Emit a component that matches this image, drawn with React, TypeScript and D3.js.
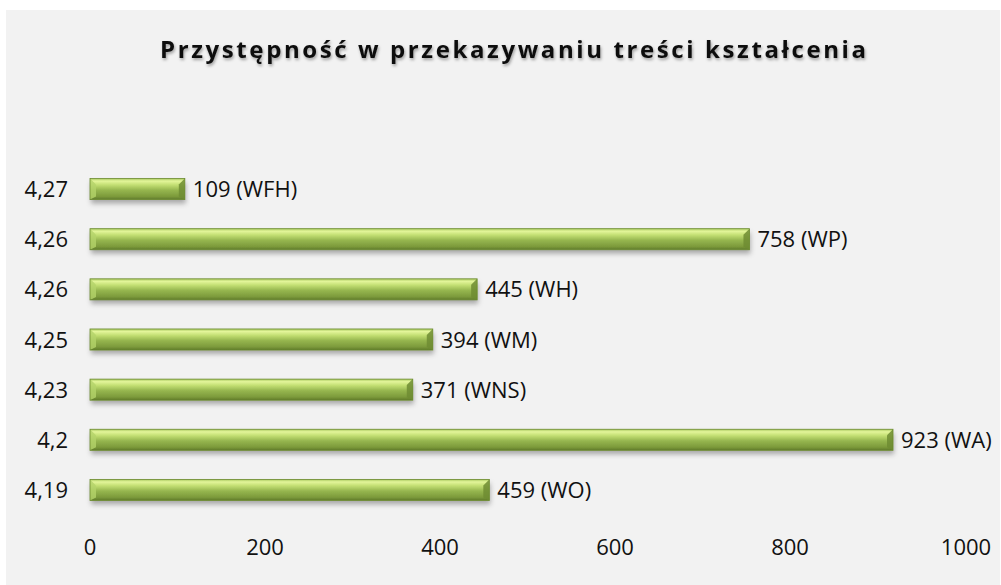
import { useRef, useEffect } from 'react'
import * as d3 from 'd3'

const categories = ['4,27', '4,26', '4,26', '4,25', '4,23', '4,2', '4,19']
const values = [109, 758, 445, 394, 371, 923, 459]
const faculties = ['WFH', 'WP', 'WH', 'WM', 'WNS', 'WA', 'WO']
const xTicks = [0, 200, 400, 600, 800, 1000]

const W = 1001
const H = 585

const App = () => {
  const svgRef = useRef<SVGSVGElement>(null)

  useEffect(() => {
    if (!svgRef.current) return
    const svg = d3.select(svgRef.current)
    svg.selectAll('*').remove()

    const font = "'Open Sans', 'Noto Sans', sans-serif"
    const fs = 22

    const defs = svg.append('defs')
    const grad = defs.append('linearGradient')
      .attr('id', 'barGrad')
      .attr('x1', 0).attr('y1', 0).attr('x2', 0).attr('y2', 1)
    const stops: [number, string][] = [
      [0, '#a9c95f'], [0.12, '#e3f59a'], [0.3, '#c3df73'], [0.55, '#96b64f'], [0.85, '#7c9a3b'], [1, '#5f7a2a']
    ]
    stops.forEach(([o, c]) => grad.append('stop').attr('offset', o).attr('stop-color', c))

    const shadow = defs.append('filter').attr('id', 'shadow')
      .attr('x', '-5%').attr('y', '-30%').attr('width', '110%').attr('height', '180%')
    shadow.append('feDropShadow')
      .attr('dx', 1).attr('dy', 4).attr('stdDeviation', 2.5)
      .attr('flood-color', '#000').attr('flood-opacity', 0.3)

    const titleShadow = defs.append('filter').attr('id', 'titleShadow')
    titleShadow.append('feDropShadow')
      .attr('dx', 1).attr('dy', 2).attr('stdDeviation', 1.5)
      .attr('flood-color', '#000').attr('flood-opacity', 0.35)

    // background
    svg.append('rect')
      .attr('x', 6).attr('y', 10).attr('width', W - 7).attr('height', H - 10)
      .attr('fill', '#f2f2f2')

    svg.append('text')
      .attr('x', 160).attr('y', 58)
      .attr('font-family', font)
      .attr('font-size', 24)
      .attr('font-weight', 'bold')
      .attr('textLength', 706)
      .attr('lengthAdjust', 'spacing')
      .attr('fill', '#111')
      .attr('filter', 'url(#titleShadow)')
      .text('Przystępność w przekazywaniu treści kształcenia')

    const x = d3.scaleLinear().domain([0, 1000]).range([90, 960])
    const y = d3.scaleBand<number>()
      .domain(d3.range(categories.length))
      .range([163, 516])
      .paddingInner(0.58)
      .paddingOuter(0.31)

    // x-axis labels
    svg.append('g')
      .selectAll('text')
      .data(xTicks)
      .join('text')
      .attr('x', d => x(d) + (d === 1000 ? 6 : d / 200))
      .attr('y', 555)
      .attr('text-anchor', 'middle')
      .attr('font-family', font)
      .attr('font-size', fs)
      .attr('fill', '#111')
      .text(d => d)

    // y-axis labels
    svg.append('g')
      .selectAll('text')
      .data(categories)
      .join('text')
      .attr('x', 68)
      .attr('y', (_, i) => (y(i) ?? 0) + y.bandwidth() / 2 + 8)
      .attr('text-anchor', 'end')
      .attr('font-family', font)
      .attr('font-size', fs)
      .attr('fill', '#111')
      .text(d => d)

    const bars = svg.append('g')
      .selectAll('g')
      .data(values)
      .join('g')
      .attr('transform', (_, i) => `translate(0,${y(i)})`)

    const bh = y.bandwidth()
    const bev = 6

    bars.append('rect')
      .attr('x', x(0)).attr('y', 0)
      .attr('width', d => x(d) - x(0))
      .attr('height', bh)
      .attr('fill', 'url(#barGrad)')
      .attr('filter', 'url(#shadow)')

    // left bevel (light)
    bars.append('path')
      .attr('d', `M${x(0)},0 L${x(0) + bev},${bev} L${x(0) + bev},${bh - bev / 2} L${x(0)},${bh} Z`)
      .attr('fill', '#b4d36a')
      .attr('opacity', 0.8)

    // right bevel (dark)
    bars.append('path')
      .attr('d', d => `M${x(d)},0 L${x(d)},${bh} L${x(d) - bev},${bh - bev / 2} L${x(d) - bev},${bev} Z`)
      .attr('fill', '#6f8c33')
      .attr('opacity', 0.85)

    // outline
    bars.append('rect')
      .attr('x', x(0)).attr('y', 0)
      .attr('width', d => x(d) - x(0))
      .attr('height', bh)
      .attr('fill', 'none')
      .attr('stroke', '#6b8a2e')
      .attr('stroke-width', 0.8)

    bars.append('text')
      .attr('x', d => x(d) + 8)
      .attr('y', bh / 2 + 8)
      .attr('font-family', font)
      .attr('font-size', fs)
      .attr('fill', '#111')
      .text((d, i) => `${d} (${faculties[i]})`)
  }, [])

  return (
    <svg
      ref={svgRef}
      width={W}
      height={H}
      style={{ position: 'absolute', left: 0, top: 0, display: 'block' }}
    />
  )
}

export default App
